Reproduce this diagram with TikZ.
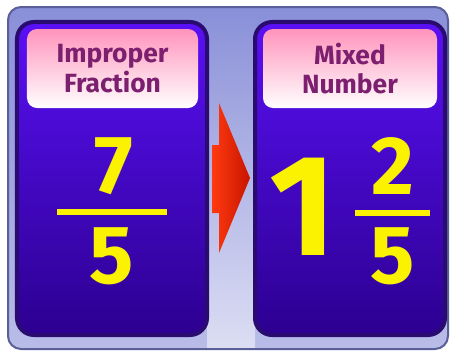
\documentclass[tikz,border=0pt]{standalone}
\usepackage{fontspec}
\setmainfont{Fira Sans}
\usetikzlibrary{positioning,calc}
\definecolor{frameC}{HTML}{8A90D8}
\definecolor{frameD}{HTML}{5A5F9A}
\definecolor{panelTop}{HTML}{5A10F5}
\definecolor{panelBot}{HTML}{2C0090}
\definecolor{panelEdge}{HTML}{2A0C70}
\definecolor{headTop}{HTML}{FF94BC}
\definecolor{headText}{HTML}{7B1F6E}
\definecolor{digitC}{HTML}{FAF200}
\definecolor{arrowL}{HTML}{FF3A10}
\definecolor{arrowR}{HTML}{C81400}

\begin{document}
\begin{tikzpicture}[x=0.2mm,y=-0.2mm,
  panel/.style={draw=panelEdge, line width=0.8mm, rounded corners=3.4mm,
                top color=panelTop, bottom color=panelBot,
                minimum width=38mm, minimum height=62.6mm, inner sep=0pt},
  head/.style={rounded corners=2mm, top color=headTop, bottom color=white,
               minimum height=15.8mm, inner sep=0pt, align=center,
               text=headText, font=\fontsize{15}{17}\selectfont\bfseries},
  digit/.style={text=digitC, inner sep=0pt, font=\fontsize{47}{47}\selectfont\bfseries},
  bigdigit/.style={digit, font=\fontsize{82}{82}\selectfont\bfseries},
  bar/.style={draw=digitC, line width=1.2mm}]
\useasboundingbox (0,0) rectangle (450,351);
% background frame
\shade[rounded corners=2.6mm, top color=frameC, bottom color=frameC!60!white]
  (8,7) rectangle (448,349);
\shade[top color=frameC, bottom color=frameC!30!white] (207,9) rectangle (255,347);
\draw[frameD, line width=0.4mm, rounded corners=2.6mm] (8,7) rectangle (448,349);
% panels
\node[panel] (lp) at (112,178.5) {};
\node[panel] (rp) at (350,178.5) {};
\node[head, minimum width=34.2mm] (lh) at (112.5,68.5) {Improper\\Fraction};
\node[head, minimum width=34.8mm] (rh) at (350,68.5) {Mixed\\Number};
% improper fraction
\node[digit] (num7) at (114,166) {7};
\node[digit] (den5) at (112,256) {5};
\coordinate (lbarA) at (57,212);
\coordinate (lbarB) at (167,212);
\draw[bar] (lbarA) -- (lbarB);
% mixed number
\node[bigdigit] (whole) at (303,207) {1};
\node[digit] (num2) at (393,166) {2};
\node[digit] (den5r) at (393,256) {5};
\coordinate (rbarA) at (355,213);
\coordinate (rbarB) at (430,213);
\draw[bar] (rbarA) -- (rbarB);
% arrow
\shade[left color=arrowL, right color=arrowR]
  (212,145) -- (219,145) -- (219,103) -- (250,178) -- (219,253) -- (219,213) -- (212,213) -- cycle;
\end{tikzpicture}
\end{document}
